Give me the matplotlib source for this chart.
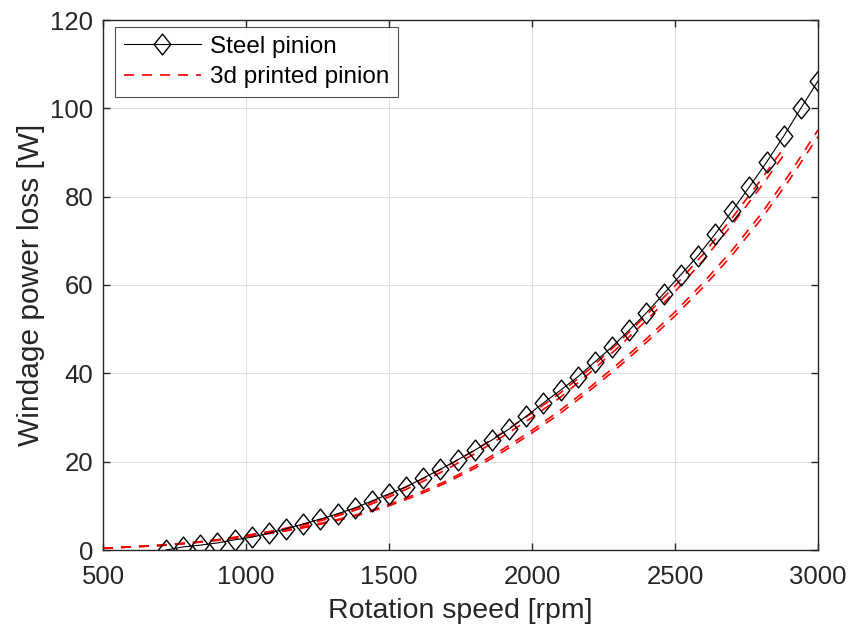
import matplotlib
matplotlib.use("Agg")
import matplotlib.pyplot as plt
from matplotlib.path import Path
from matplotlib.lines import Line2D

plt.rcParams['font.family'] = ['Liberation Sans', 'DejaVu Sans']

# ---- data ----
steel_rpm = list(range(720, 3001, 60))
steel_loss = [0.0, 0.7, 1.1, 1.6, 2.3, 2.9, 3.8, 4.8, 5.9, 7.0,
              8.2, 9.5, 11.1, 12.7, 14.3, 16.3, 18.3, 20.4, 22.6, 24.9,
              27.4, 30.3, 33.3, 36.2, 39.2, 42.6, 46.0, 49.8, 53.7, 58.0,
              62.3, 66.6, 71.5, 76.8, 82.2, 87.8, 93.7, 100.0, 106.2]

printed_rpm_long = list(range(500, 3001, 100))
printed_lower_a = [0.4, 0.7, 1.0, 1.6, 2.2, 3.0, 3.9, 5.0, 6.4, 8.0,
                   10.0, 12.4, 15.2, 18.5, 22.3, 26.5, 31.0, 36.0, 41.3, 47.0,
                   53.0, 59.6, 66.8, 74.8, 83.8, 93.6]
printed_lower_b = [0.4, 0.7, 1.1, 1.6, 2.3, 3.1, 4.0, 5.2, 6.6, 8.2,
                   10.3, 12.8, 15.6, 19.0, 22.9, 27.1, 31.7, 36.7, 42.1, 47.8,
                   53.9, 60.6, 67.9, 76.0, 85.1, 95.1]

printed_rpm_short = list(range(500, 2801, 100)) + [2880]
printed_upper_a = [0.4, 0.7, 1.0, 1.5, 2.2, 3.1, 4.2, 5.6, 7.3, 9.4,
                   12.0, 14.9, 18.2, 21.8, 25.8, 30.0, 34.6, 40.0, 45.8, 52.0,
                   58.5, 65.7, 73.7, 82.2, 89.4]
printed_upper_b = [0.4, 0.7, 1.1, 1.6, 2.3, 3.3, 4.4, 5.8, 7.6, 9.8,
                   12.5, 15.5, 18.9, 22.6, 26.7, 31.0, 35.6, 40.9, 46.8, 53.2,
                   59.8, 67.1, 75.2, 83.8, 91.0]

x_ticks = [500, 1000, 1500, 2000, 2500, 3000]
y_ticks = [0, 20, 40, 60, 80, 100, 120]

# ---- figure ----
W, H = 848, 635
fig = plt.figure(figsize=(W / 100, H / 100), dpi=100)
ax = fig.add_axes([103 / W, 1 - 550 / H, 715 / W, 530 / H])

diamond = Path([(0, 1), (0.8, 0), (0, -1), (-0.8, 0), (0, 1)],
               [Path.MOVETO, Path.LINETO, Path.LINETO, Path.LINETO, Path.CLOSEPOLY])

red_kw = dict(color='#FF0000', lw=1.2, dashes=(6, 4.8))
ax.plot(printed_rpm_long, printed_lower_a, **red_kw)
ax.plot(printed_rpm_long, printed_lower_b, **red_kw)
ax.plot(printed_rpm_short, printed_upper_a, **red_kw)
ax.plot(printed_rpm_short, printed_upper_b, **red_kw)

steel_line, = ax.plot(steel_rpm, steel_loss, color='black', lw=0.8,
                      marker=diamond, markersize=15, markerfacecolor='none',
                      markeredgecolor='black', markeredgewidth=1.0)

ax.set_xlim(500, 3000)
ax.set_ylim(0, 120)
ax.set_xticks(x_ticks)
ax.set_yticks(y_ticks)
ax.grid(True, color='#DFDFDF', lw=0.7)
ax.set_axisbelow(True)

for s in ax.spines.values():
    s.set_color('#262626')
    s.set_linewidth(1.0)

ax.tick_params(direction='in', length=5, width=1.0, colors='#262626',
               labelsize=18.5, top=True, right=True)
ax.tick_params(axis='x', pad=11)
ax.tick_params(axis='y', pad=7)
ax.set_xlabel('Rotation speed [rpm]', fontsize=20.5, color='#262626', labelpad=6)
ax.set_ylabel('Windage power loss [W]', fontsize=21.5, color='#262626', labelpad=4)

h_red = Line2D([], [], **red_kw)
leg = ax.legend([steel_line, h_red], ['Steel pinion', '3d printed pinion'],
                loc='upper left', bbox_to_anchor=(12 / 715, 1 - 7 / 530), fontsize=17.5,
                frameon=True, fancybox=False, edgecolor='#262626',
                handlelength=3.2, borderaxespad=0, borderpad=0.35,
                labelspacing=0.35, handletextpad=0.35, numpoints=1)
leg.get_frame().set_linewidth(0.8)

fig.savefig('out.png', dpi=100)
